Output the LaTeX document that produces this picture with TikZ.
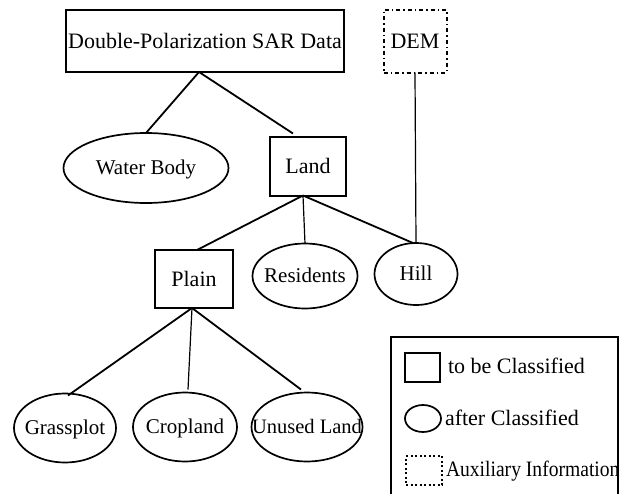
\documentclass[tikz,border=0pt]{standalone}
\usepackage{fontspec}
\setmainfont{Liberation Serif}
\newfontfamily\condfont{Liberation Serif}[FakeStretch=0.89]
\usetikzlibrary{shapes.geometric,calc}
\begin{document}
\begin{tikzpicture}[x=1pt,y=-1pt,
  every node/.style={font=\fontsize{22}{26}\selectfont, inner sep=0pt, outer sep=0pt},
  boxnode/.style={draw, line width=2pt, rectangle},
  ellnode/.style={draw, line width=1.7pt, ellipse},
  elltext/.style={font=\fontsize{21}{25}\selectfont, anchor=base, yshift=-6.5pt},
  auxnode/.style={draw, line width=2pt, rectangle, dash pattern=on 4pt off 3pt on 1.5pt off 3pt},
  conn/.style={line width=1.8pt},
  thinconn/.style={line width=1.2pt}]
\useasboundingbox (0,0) rectangle (624,493);
% main boxes
\node[boxnode, minimum width=278pt, minimum height=62pt] (sar) at (205,41) {Double-Polarization SAR Data};
\node[auxnode, minimum width=63pt, minimum height=63pt] (dem) at (415,41) {DEM};
\node[boxnode, minimum width=76pt, minimum height=59pt] (land) at (308,166) {Land};
\node[boxnode, minimum width=78pt, minimum height=58pt] (plain) at (194,279) {Plain};
% ellipses
\node[ellnode, minimum width=165pt, minimum height=70pt] (water) at (146,168) {};
\node[elltext] (watert) at (water) {Water Body};
\node[ellnode, minimum width=105pt, minimum height=65pt] (res) at (305,276) {};
\node[elltext] (rest) at (res) {Residents};
\node[ellnode, minimum width=83pt, minimum height=62pt] (hill) at (416,274) {};
\node[elltext] (hillt) at (hill) {Hill};
\node[ellnode, minimum width=102pt, minimum height=69pt] (grass) at (65,428) {};
\node[elltext] (grasst) at (grass) {Grassplot};
\node[ellnode, minimum width=104pt, minimum height=69pt] (crop) at (185,427) {};
\node[elltext] (cropt) at (crop) {Cropland};
\node[ellnode, minimum width=111pt, minimum height=69pt] (unused) at (307,427) {};
\node[elltext, font=\fontsize{20.5}{24}\selectfont] (unusedt) at (unused) {Unused Land};
% connectors
\coordinate (sarb) at ($(sar.south)+(-6,0)$);
\coordinate (landb) at ($(land.south)+(-5,0)$);
\coordinate (plainb) at ($(plain.south)+(-2,0)$);
\draw[conn] (sarb) -- (water.north);
\draw[conn] (sarb) -- ($(land.north)+(-15,-3)$);
\draw[conn] (landb) -- ($(plain.north)+(3,0)$);
\draw[thinconn] (landb) -- (res.north);
\draw[conn] (landb) -- ($(hill.north)+(-3,0)$);
\draw[thinconn] (dem.south) -- (hill.north);
\draw[conn] (plainb) -- ($(grass.north)+(3,2)$);
\draw[thinconn] (plainb) -- ($(crop.north)+(3,-3)$);
\draw[conn] (plainb) -- ($(unused.north)+(-6,-3)$);
% legend
\draw[line width=1.8pt] (391,494) -- (391,337) -- (618,337) -- (618,494);
\node[boxnode, minimum width=35pt, minimum height=29pt] (lgbox) at (422.5,367.5) {};
\node[anchor=base west] (lgboxt) at (448,373) {to be Classified};
\node[ellnode, minimum width=36pt, minimum height=27pt] (lgell) at (423,418.5) {};
\node[anchor=base west] (lgellt) at (445,425) {after Classified};
\node[draw, line width=1.7pt, dash pattern=on 2pt off 2.5pt, minimum width=36pt, minimum height=29pt] (lgaux) at (424,470.5) {};
\node[anchor=base west, font=\condfont\fontsize{22}{26}\selectfont] (lgauxt) at (446,476) {Auxiliary Information};
\end{tikzpicture}
\end{document}
